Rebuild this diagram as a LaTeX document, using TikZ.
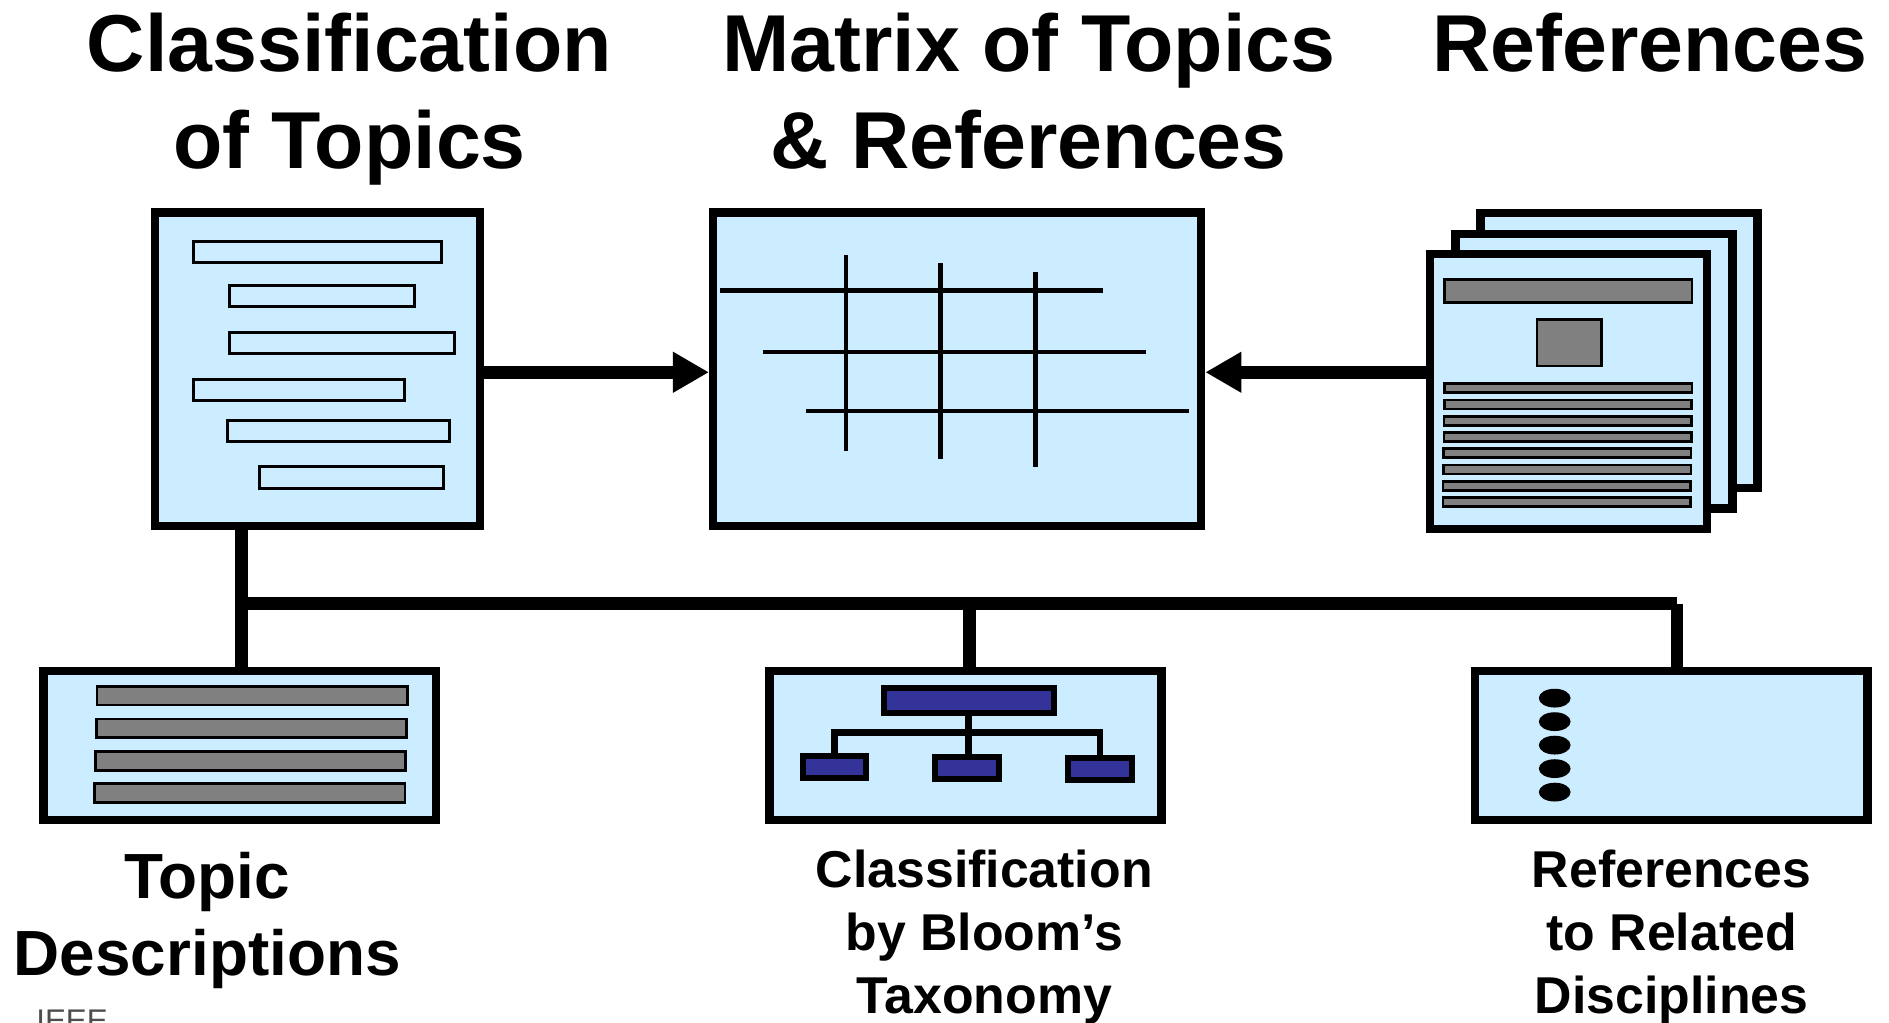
\documentclass[tikz,border=0pt]{standalone}
\usepackage{fontspec}
\setmainfont{Liberation Sans}
\usetikzlibrary{arrows.meta}
\definecolor{paleblue}{HTML}{CCECFF}
\definecolor{midgray}{HTML}{808080}
\definecolor{navy}{HTML}{333399}
\definecolor{notegray}{HTML}{4D4D4D}
% centred block of lines whose baseline is the first line's baseline
\newcommand{\cstack}[1]{\begin{tabular}[t]{@{}c@{}}#1\end{tabular}}

\begin{document}
\begin{tikzpicture}[x=1pt,y=-1pt,
  panel/.style={draw=black, fill=paleblue, line width=7pt, rectangle, inner sep=0pt},
  slot/.style={draw=black, fill=paleblue, line width=2.5pt},
  greybar/.style={draw=black, fill=midgray, line width=2.2pt},
  gridline/.style={line width=3.6pt},
  link/.style={line width=10.5pt},
  flow/.style={link, -{Triangle[length=30pt,width=32pt]}},
  orgbox/.style={draw=black, fill=navy, line width=5pt, rectangle, inner sep=0pt},
  orgline/.style={line width=5.3pt},
  title/.style={font=\bfseries\fontsize{67}{80}\selectfont, anchor=base, inner sep=0pt},
  caption/.style={font=\bfseries\fontsize{43}{52}\selectfont, anchor=base, inner sep=0pt},
]
\useasboundingbox (0,0) rectangle (1568,849);
\clip (0,0) rectangle (1568,849);

% ---- headings
\node[title] (headA) at (290,59.5) {\cstack{Classification\\of Topics}};
\node[title] (headB) at (854,59.5) {\cstack{Matrix of Topics\\\& References}};
\node[title] (headC) at (1369.5,59.5) {References};

% ---- classification of topics
\node[panel, minimum width=270pt, minimum height=260pt] (topics) at (263.5,306.5) {};
\draw[slot] (161,200.2) rectangle (366.7,218.2);
\draw[slot] (190.4,237) rectangle (343.9,254.6);
\draw[slot] (190.4,275.8) rectangle (377,293.7);
\draw[slot] (161,314.9) rectangle (335.7,332.2);
\draw[slot] (188.8,349.1) rectangle (373,366.3);
\draw[slot] (215.7,387.3) rectangle (367.9,405.7);

% ---- matrix of topics and references
\node[panel, minimum width=405pt, minimum height=260pt] (matrix) at (794.5,306.5) {};
\draw[gridline] (597.7,241) -- (915.4,241);
\draw[gridline] (633.6,292) -- (951.3,292);
\draw[gridline] (669,341.4) -- (986.7,341.4);
\draw[gridline] (702,211.7) -- (702,374.1);
\draw[gridline] (780.6,218.3) -- (780.6,380.8);
\draw[gridline] (859.4,225.8) -- (859.4,387.4);

% ---- stack of reference sheets
\node[panel, minimum width=230pt, minimum height=228pt] (sheetC) at (1344,291) {};
\node[panel, minimum width=230pt, minimum height=228pt] (sheetB) at (1323,308) {};
\node[panel, minimum width=230pt, minimum height=228pt] (sheetA) at (1302,325) {};
\draw[greybar] (1199.1,232.1) rectangle (1404.5,251.2);
\draw[greybar] (1275.8,265.4) rectangle (1329.2,303.8);
\foreach \k in {0,...,7}
  \draw[greybar] ({1199.1-0.2*\k},{318.5+13.5*\k}) rectangle ({1404.5-0.2*\k},{326+13.5*\k});

% ---- arrows into the matrix
\coordinate (inL) at ([yshift=-2.5pt]matrix.west);
\coordinate (inR) at ([yshift=-2.5pt]matrix.east);
\draw[flow] (topics.east |- inL) -- (inL);
\draw[flow] (sheetA.west |- inR) -- (inR);

% ---- lower panels
\node[panel, minimum width=325.7pt, minimum height=123.5pt] (descr) at (198.9,618.8) {};
\node[panel, minimum width=325.5pt, minimum height=123.5pt] (bloom) at (801.3,618.8) {};
\node[panel, minimum width=325.5pt, minimum height=123.5pt] (related) at (1387.3,618.8) {};

% topic description lines
\draw[greybar] (80.6,569.9) rectangle (338.3,585.3);
\draw[greybar] (80.1,596.7) rectangle (337.5,612.4);
\draw[greybar] (79.2,623.8) rectangle (336.6,639.5);
\draw[greybar] (78.4,650.6) rectangle (336.1,666.3);

% taxonomy tree
\node[orgbox, minimum width=140.8pt, minimum height=20.4pt] (root) at (804.5,581.3) {};
\node[orgbox, minimum width=53pt, minimum height=18pt] (leafL) at (692.7,636.8) {};
\node[orgbox, minimum width=53pt, minimum height=18pt] (leafM) at (803,637.5) {};
\node[orgbox, minimum width=53pt, minimum height=18pt] (leafR) at (913,638.3) {};
\coordinate (fork) at (803.8,607.9);
\draw[orgline] (leafL.north) |- (fork) -| (leafR.north);
\draw[orgline] (root.south -| fork) -- (leafM.north -| fork);

% bullet column
\foreach \yy in {579.5,599,618.5,638,657.5}
  \fill (1290.5,\yy) ellipse [x radius=13.2pt, y radius=7.8pt];

% ---- connecting bus
\coordinate (hub) at (200.5,501);
\coordinate (mid) at (804.5,501);
\coordinate (far) at (1391.8,501);
\coordinate (drop) at (1392,501);
\draw[link] (topics.south -| hub) -- (descr.north -| hub);
\draw[link] (hub) -- (far);
\draw[link] (mid) -- (bloom.north -| mid);
\draw[link] (drop) -- (related.north -| drop);

% ---- captions
\node[font=\bfseries\fontsize{53}{64}\selectfont, anchor=base, inner sep=0pt] (capA) at (172,746) {\cstack{Topic\\Descriptions}};
\node[caption] (capB) at (817,737) {\cstack{Classification\\by Bloom’s\\Taxonomy}};
\node[caption] (capC) at (1387.5,737) {\cstack{References\\to Related\\Disciplines}};
\node[font=\fontsize{26}{30}\selectfont, text=notegray, anchor=base west, inner sep=0pt] (source) at (30,856.6) {IEEE};
\end{tikzpicture}
\end{document}
